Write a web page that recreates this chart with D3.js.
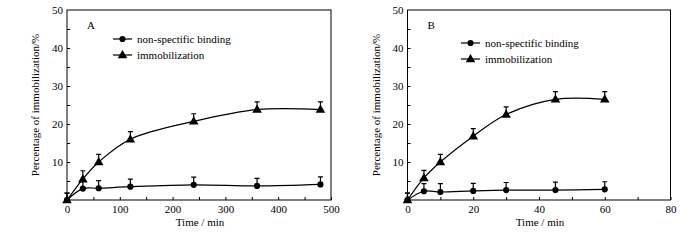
<!DOCTYPE html>
<html>
<head>
<meta charset="utf-8">
<script src="https://cdn.jsdelivr.net/npm/d3@7"></script>
<style>
  body { margin: 0; background: #fff; }
  svg { display: block; font-family: "Liberation Serif", "Times New Roman", serif; }
</style>
</head>
<body>
<svg id="chart" width="700" height="240"></svg>
<script>
// Panel A data (time in min)
const timeA = [0, 30, 60, 120, 240, 360, 480];
const nonSpecA = [0, 3.0, 3.1, 3.5, 4.0, 3.7, 4.1];
const immobA = [0, 5.5, 10.0, 16.0, 20.7, 23.8, 23.8];
const errNonSpecA = [1.8, 2, 2, 2, 2, 2, 2];
const errImmobA = [1.8, 2.2, 2, 2, 2, 2, 2];

// Panel B data
const timeB = [0, 5, 10, 20, 30, 45, 60];
const nonSpecB = [0, 2.3, 2.1, 2.4, 2.6, 2.6, 2.8];
const immobB = [0, 5.8, 10.0, 16.8, 22.5, 26.5, 26.5];
const errNonSpecB = [1.8, 2, 2.2, 2, 2, 2.1, 2];
const errImmobB = [1.8, 2, 2, 2, 2, 2, 2];

const yTicks = [10, 20, 30, 40, 50];
const xTicksA = [0, 100, 200, 300, 400, 500];
const xTicksB = [0, 20, 40, 60, 80];
const legendLabels = ["non-spectific binding", "immobilization"];

const svg = d3.select("#chart");

function drawPanel(cfg) {
    const g = svg.append("g");
    const x = d3.scaleLinear().domain(cfg.xDomain).range([cfg.left, cfg.right]);
    const y = d3.scaleLinear().domain([0, 50]).range([200, 10]);

    // frame
    g.append("rect")
        .attr("x", cfg.left).attr("y", 10)
        .attr("width", cfg.right - cfg.left).attr("height", 190)
        .attr("fill", "none").attr("stroke", "#000").attr("stroke-width", 1);

    // bottom axis, ticks pointing inward
    const minorX = d3.range(cfg.xDomain[0], cfg.xDomain[1] + 0.001, cfg.xStep / 2);
    g.append("g")
        .attr("transform", "translate(0,200)")
        .call(d3.axisBottom(x).tickValues(minorX).tickSize(-3).tickFormat(""))
        .call(a => a.select(".domain").remove());
    g.append("g")
        .attr("transform", "translate(0,200)")
        .call(d3.axisBottom(x).tickValues(cfg.xTicks).tickSize(0).tickPadding(5))
        .call(a => a.select(".domain").remove())
        .call(a => a.selectAll("text").style("font-size", "11px").style("font-family", "Liberation Serif"));

    // left axis, ticks inward
    g.append("g")
        .attr("transform", `translate(${cfg.left},0)`)
        .call(d3.axisLeft(y).tickValues(d3.range(5, 50, 5)).tickSize(-3).tickFormat(""))
        .call(a => a.select(".domain").remove());
    g.append("g")
        .attr("transform", `translate(${cfg.left},0)`)
        .call(d3.axisLeft(y).tickValues(yTicks).tickSize(0).tickPadding(4))
        .call(a => a.select(".domain").remove())
        .call(a => a.selectAll("text").style("font-size", "11px").style("font-family", "Liberation Serif"));

    // axis titles
    g.append("text")
        .attr("x", (cfg.left + cfg.right) / 2 + 1)
        .attr("y", 226)
        .attr("text-anchor", "middle")
        .style("font-size", "11px")
        .text("Time / min");
    g.append("text")
        .attr("transform", `translate(${cfg.left - 28},105) rotate(-90)`)
        .attr("text-anchor", "middle")
        .style("font-size", "11px")
        .text("Percentage of immobilization/%");

    // panel letter
    g.append("text")
        .attr("x", cfg.left + 20).attr("y", 29)
        .style("font-size", "11px")
        .text(cfg.letter);

    const line = d3.line()
        .x(d => x(d[0]))
        .y(d => y(d[1]))
        .curve(d3.curveCatmullRom.alpha(0.5));

    const series = [
        { vals: cfg.nonSpec, err: cfg.errNonSpec, shape: "circle" },
        { vals: cfg.immob, err: cfg.errImmob, shape: "triangle" }
    ];

    series.forEach(s => {
        const pts = cfg.time.map((t, i) => [t, s.vals[i], s.err[i]]);
        g.append("path")
            .datum(pts)
            .attr("d", line)
            .attr("fill", "none")
            .attr("stroke", "#000")
            .attr("stroke-width", 1.2);

        // error bars (upper only, with cap)
        g.selectAll(null)
            .data(pts)
            .enter().append("path")
            .attr("d", d => {
                const cx = x(d[0]), y0 = y(d[1]), y1 = y(d[1] + d[2]);
                return `M${cx},${y0}V${y1}M${cx - 2.5},${y1}H${cx + 2.5}`;
            })
            .attr("stroke", "#000")
            .attr("stroke-width", 1.2)
            .attr("fill", "none");

        const sym = s.shape === "circle"
            ? d3.symbol().type(d3.symbolCircle).size(30)
            : d3.symbol().type(d3.symbolTriangle).size(40);
        g.selectAll(null)
            .data(pts)
            .enter().append("path")
            .attr("transform", d => `translate(${x(d[0])},${y(d[1]) + (s.shape === "triangle" ? 0.5 : 0)})`)
            .attr("d", sym)
            .attr("fill", "#000");
    });

    // legend
    legendLabels.forEach((lab, i) => {
        const ly = cfg.legY + i * 16;
        g.append("line")
            .attr("x1", cfg.legX).attr("x2", cfg.legX + 19)
            .attr("y1", ly).attr("y2", ly)
            .attr("stroke", "#000").attr("stroke-width", 1.2);
        g.append("path")
            .attr("transform", `translate(${cfg.legX + 9.5},${ly + (i === 1 ? 0.5 : 0)})`)
            .attr("d", i === 0 ? d3.symbol().type(d3.symbolCircle).size(30)()
                               : d3.symbol().type(d3.symbolTriangle).size(40)())
            .attr("fill", "#000");
        g.append("text")
            .attr("x", cfg.legX + 24).attr("y", ly + 4)
            .style("font-size", "11px")
            .text(lab);
    });
}

drawPanel({
    letter: "A", left: 67, right: 331, xDomain: [0, 500], xStep: 100, xTicks: xTicksA,
    time: timeA, nonSpec: nonSpecA, immob: immobA, errNonSpec: errNonSpecA, errImmob: errImmobA,
    legX: 113, legY: 39
});
drawPanel({
    letter: "B", left: 407.5, right: 670.5, xDomain: [0, 80], xStep: 20, xTicks: xTicksB,
    time: timeB, nonSpec: nonSpecB, immob: immobB, errNonSpec: errNonSpecB, errImmob: errImmobB,
    legX: 461, legY: 43
});
</script>
</body>
</html>
